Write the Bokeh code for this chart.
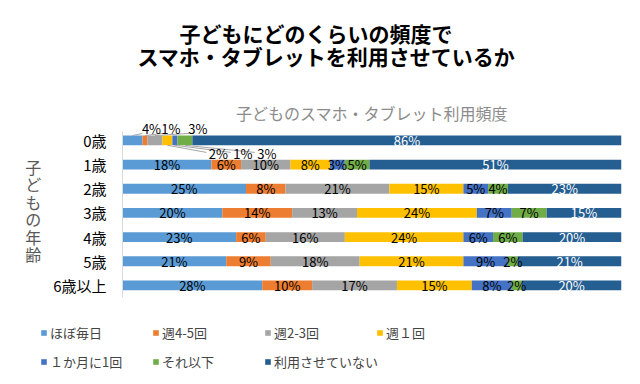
from bokeh.plotting import figure
from bokeh.models import (ColumnDataSource, Legend, LegendItem, FixedTicker, Range1d, Title)
from bokeh.core.properties import value
from bokeh.embed import file_html
from bokeh.resources import INLINE

# ---- data ----
ages = ["0歳", "1歳", "2歳", "3歳", "4歳", "5歳", "6歳以上"]
series = ["ほぼ毎日", "週4-5回", "週2-3回", "週１回", "１か月に1回", "それ以下", "利用させていない"]
almost_daily = [4, 18, 25, 20, 23, 21, 28]
week_4_5 = [1, 6, 8, 14, 6, 9, 10]
week_2_3 = [3, 10, 21, 13, 16, 18, 17]
week_1 = [2, 8, 15, 24, 24, 21, 15]
month_1 = [1, 3, 5, 7, 6, 9, 8]
less = [3, 5, 4, 7, 6, 2, 2]
never = [86, 51, 23, 15, 20, 21, 20]

colors = ["#5B9BD5", "#ED7D31", "#A5A5A5", "#FFC000", "#4472C4", "#70AD47", "#255E91"]
FONT = "Noto Sans CJK JP"

values = [almost_daily, week_4_5, week_2_3, week_1, month_1, less, never]
keys = ["s%d" % i for i in range(len(series))]
n = len(ages)
totals = [sum(v[i] for v in values) for i in range(n)]

data = {"y": list(range(n))}
for k, v in zip(keys, values):
    data[k] = [v[i] / totals[i] * 100 for i in range(n)]
src = ColumnDataSource(data)

p = figure(width=632, height=300, output_backend="svg", toolbar_location=None,
           x_range=Range1d(0, 100), y_range=Range1d(6.5, -0.70),
           min_border_left=122, min_border_right=11, min_border_top=123,
           min_border_bottom=3)
p.outline_line_color = None
p.grid.visible = False
p.xaxis.visible = False
yax = p.yaxis[0]
yax.ticker = FixedTicker(ticks=list(range(n)))
yax.major_label_overrides = {i: a for i, a in enumerate(ages)}
yax.bounds = (-0.35, 6.5)
yax.major_tick_line_color = None
yax.minor_tick_line_color = None
yax.major_tick_out = 0
yax.minor_tick_out = 0
yax.axis_line_color = "#D9D9D9"
yax.major_label_text_font = FONT
yax.major_label_text_font_size = "15px"
yax.major_label_text_color = "#000000"
yax.major_label_standoff = 16
yax.axis_label = "子\nど\nも\nの\n年\n齢"
yax.axis_label_text_font = FONT
yax.axis_label_text_font_size = "16px"
yax.axis_label_text_font_style = "normal"
yax.axis_label_text_color = "#595959"
yax.axis_label_standoff = 9
yax.axis_label_text_line_height = 0.73
if "axis_label_orientation" in yax.properties():
    yax.axis_label_orientation = "horizontal"

renderers = p.hbar_stack(keys, y="y", height=0.41, color=colors, source=src, line_color=None)

# ---- data labels ----
lx, ly, lt, lc, ldx, ldy = [], [], [], [], [], []
sx0, sy0, sx1, sy1 = [], [], [], []
callout_dx = [19, 26, 43, 51, 68, 82]     # label offsets (px) for the thin 0歳 segments
callout_dy = [-12, -12, -12, 13, 13, 13]
px_per_pct = 499 / 100.0
px_per_row = 174 / 7.2
for i in range(n):
    left = 0.0
    for j, k in enumerate(keys):
        w = data[k][i]
        c = left + w / 2
        txt = "%d%%" % values[j][i]
        if i == 0 and j < len(keys) - 1:
            dx, dy = callout_dx[j], callout_dy[j]
            lx.append(c); ly.append(i); ldx.append(dx); ldy.append(dy)
            lt.append(txt); lc.append("#000000")
            sx0.append(c)
            if dy > 0:
                sy0.append(i + 0.2)
                sx1.append(c + (dx - 12) / px_per_pct)
                sy1.append(i + (dy - 1) / px_per_row)
            else:
                sy0.append(i - 0.2)
                sx1.append(c + (dx - 9) / px_per_pct)
                sy1.append(i + (dy + 5) / px_per_row)
        else:
            lx.append(c); ly.append(i); ldx.append(0); ldy.append(0)
            lt.append(txt); lc.append("#FFFFFF" if j == len(keys) - 1 else "#000000")
        left += w

p.segment(x0=sx0, y0=sy0, x1=sx1, y1=sy1, line_color="#A6A6A6", line_width=1)
lsrc = ColumnDataSource(dict(x=lx, y=ly, t=lt, c=lc, dx=ldx, dy=ldy))
p.text(x="x", y="y", text="t", text_color="c", x_offset="dx", y_offset="dy", source=lsrc,
       text_align="center", text_baseline="middle", text_font=value(FONT),
       text_font_size="13px")

# ---- titles (first added sits closest to the frame) ----
p.add_layout(Title(text="子どものスマホ・タブレット利用頻度", align="center",
                   text_font=FONT, text_font_size="16px", text_font_style="normal",
                   text_color="#8C8C8C", standoff=-3), "above")
p.add_layout(Title(text=" ", align="left", text_font=FONT, text_font_size="10px",
                   text_color="#FFFFFF", standoff=12), "above")
p.add_layout(Title(text="\u3000\u3000子どもにどのくらいの頻度で\nスマホ・タブレットを利用させているか",
                   align="left", offset=15, text_line_height=0.77,
                   text_font=FONT, text_font_size="21px", text_font_style="bold",
                   text_color="#000000", standoff=0), "above")

# ---- legend strip below the chart (separate root, so its frame is not aligned to p) ----
leg = figure(width=632, height=76, output_backend="svg", toolbar_location=None,
             x_range=Range1d(0, 100), y_range=Range1d(100, 101),
             x_axis_location=None, y_axis_location=None,
             min_border_left=0, min_border_right=0, min_border_top=0, min_border_bottom=0)
leg.outline_line_color = None
leg.grid.visible = False
leg_r = leg.hbar_stack(keys, y="y", height=0.41, color=colors, source=src, line_color=None)

common = dict(orientation="horizontal", label_text_font=FONT, label_text_font_size="13px",
              glyph_width=7, glyph_height=7, label_standoff=3, label_width=102,
              spacing=0, padding=0, margin=0, border_line_color=None,
              background_fill_alpha=0)
items = [LegendItem(label=s, renderers=[r]) for s, r in zip(series, leg_r)]
leg.add_layout(Legend(items=items[:4], location=(40, 34), **common), "center")
leg.add_layout(Legend(items=items[4:], location=(40, 5), **common), "center")

open("out.html", "w").write(file_html([p, leg], INLINE))
